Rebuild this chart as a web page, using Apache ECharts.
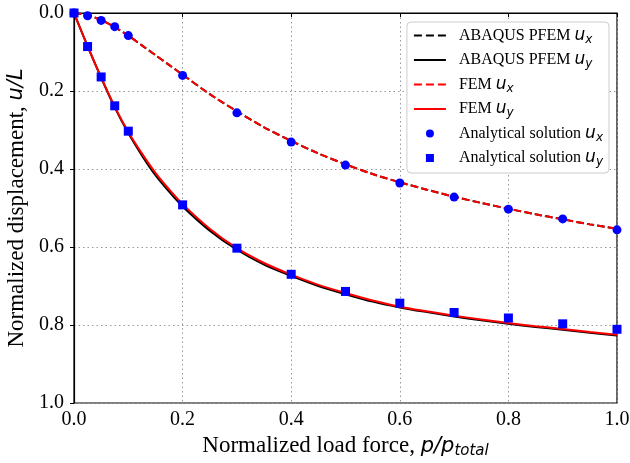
<!DOCTYPE html>
<html>
<head>
<meta charset="utf-8">
<script src="https://cdn.jsdelivr.net/npm/echarts@6/dist/echarts.min.js"></script>
<style>html,body{margin:0;padding:0;background:#fff}#c{width:630px;height:463px}</style>
</head>
<body>
<div id="c"></div>
<script>
// Load-step values for simulated curves
const xFine = [0,0.025,0.05,0.075,0.1,0.125,0.15,0.175,0.2,0.25,0.3,0.35,0.4,0.45,0.5,0.55,0.6,0.65,0.7,0.75,0.8,0.85,0.9,0.95,1.0];
const abaqusUx = [0,0.006,0.018,0.036,0.058,0.083,0.108,0.133,0.158,0.208,0.252,0.293,0.328,0.360,0.388,0.413,0.434,0.453,0.471,0.487,0.502,0.516,0.529,0.542,0.553];
const abaqusUy = [0,0.085,0.166,0.242,0.308,0.365,0.416,0.458,0.496,0.558,0.607,0.645,0.674,0.700,0.721,0.740,0.755,0.767,0.778,0.788,0.797,0.805,0.812,0.820,0.827];
const femUx = [0,0.006,0.018,0.036,0.058,0.083,0.108,0.133,0.158,0.208,0.252,0.293,0.328,0.360,0.388,0.413,0.434,0.453,0.471,0.487,0.502,0.516,0.529,0.542,0.553];
const femUy = [0,0.085,0.165,0.240,0.305,0.360,0.410,0.452,0.490,0.553,0.603,0.641,0.671,0.697,0.718,0.737,0.753,0.765,0.776,0.786,0.795,0.803,0.810,0.818,0.825];
// Analytical solution sample points
const xAna = [0,0.025,0.05,0.075,0.1,0.2,0.3,0.4,0.5,0.6,0.7,0.8,0.9,1.0];
const anaUx = [0,0.007,0.019,0.035,0.058,0.160,0.256,0.331,0.390,0.436,0.472,0.503,0.528,0.556];
const anaUy = [0,0.086,0.164,0.238,0.303,0.492,0.603,0.670,0.714,0.744,0.768,0.782,0.797,0.811];
const xTicks = [0,0.2,0.4,0.6,0.8,1.0];
const yTicks = [0,0.2,0.4,0.6,0.8,1.0];

const names = [
  'ABAQUS PFEM {i|u}{s|x}',
  'ABAQUS PFEM {i|u}{s|y}',
  'FEM {i|u}{s|x}',
  'FEM {i|u}{s|y}',
  'Analytical solution {i|u}{s|x}',
  'Analytical solution {i|u}{s|y}'
];
const dashIcon = 'path://M0,0h8v2h-8z M12,0h8v2h-8z M24,0h8v2h-8z';
const solidIcon = 'path://M0,0h32v2h-32z';
const squareIcon = 'path://M0,0h10v10h-10z';
const icons = [dashIcon, solidIcon, dashIcon, solidIcon, 'circle', squareIcon];

const pairs = (xs, ys) => xs.map((x, k) => [x, ys[k]]);
const serif = '"Liberation Serif","DejaVu Serif",serif';
const sans = '"DejaVu Sans",sans-serif';

const chart = echarts.init(document.getElementById('c'));
chart.setOption({
  animation: false,
  backgroundColor: '#fff',
  grid: {left: 74, right: 13, top: 13, bottom: 60, show: true, borderColor: '#000', borderWidth: 1.2,
         backgroundColor: 'transparent', containLabel: false, outerBoundsMode: 'none'},
  xAxis: {
    type: 'value', min: 0, max: 1, interval: 0.2,
    name: 'Normalized load force, {i|p}{i|/}{i|p}{s|total}',
    nameLocation: 'middle', nameGap: 27,
    nameTextStyle: {fontFamily: serif, fontSize: 23, color: '#000',
      rich: {i: {fontFamily: sans, fontStyle: 'italic', fontSize: 21, color: '#000'},
             s: {fontFamily: sans, fontStyle: 'italic', fontSize: 15, color: '#000', padding: [10, 0, 0, 0]}}},
    axisLine: {show: true, lineStyle: {color: '#000', width: 1.2}},
    axisTick: {show: true, length: 4, lineStyle: {color: '#000'}},
    axisLabel: {fontFamily: serif, fontSize: 20, color: '#000', margin: 7,
      formatter: v => xTicks.includes(+v.toFixed(1)) ? v.toFixed(1) : ''},
    splitLine: {show: true, lineStyle: {color: '#999', type: [1.5, 3], width: 1}}
  },
  yAxis: {
    type: 'value', min: 0, max: 1, interval: 0.2, inverse: true,
    name: 'Normalized displacement, {i|u}{i|/}{i|L}',
    nameLocation: 'middle', nameGap: 39, nameRotate: 90,
    nameTextStyle: {fontFamily: serif, fontSize: 23, color: '#000',
      rich: {i: {fontFamily: sans, fontStyle: 'italic', fontSize: 21, color: '#000'}}},
    axisLine: {show: true, lineStyle: {color: '#000', width: 1.2}},
    axisTick: {show: true, length: 4, lineStyle: {color: '#000'}},
    axisLabel: {fontFamily: serif, fontSize: 20, color: '#000', margin: 10,
      formatter: v => yTicks.includes(+v.toFixed(1)) ? v.toFixed(1) : ''},
    splitLine: {show: true, lineStyle: {color: '#999', type: [1.5, 3], width: 1}}
  },
  legend: {
    orient: 'vertical', right: 21, top: 22,
    backgroundColor: '#fff', borderColor: '#ccc', borderWidth: 1, borderRadius: 4,
    padding: [5, 6, 5, 7], itemGap: 6, itemWidth: 32, itemHeight: 8,
    symbolKeepAspect: true,
    data: names.map((n, k) => ({name: n, icon: icons[k]})),
    formatter: n => '{g|}' + n,
    textStyle: {fontFamily: serif, fontSize: 16, color: '#000',
      rich: {g: {width: 8},
             i: {fontFamily: sans, fontStyle: 'italic', fontSize: 17, color: '#000'},
             s: {fontFamily: sans, fontStyle: 'italic', fontSize: 12, color: '#000', padding: [8, 0, 0, 0]}}}
  },
  series: [
    {name: names[0], type: 'line', data: pairs(xFine, abaqusUx), smooth: 0.3, showSymbol: false, symbol: 'none',
     lineStyle: {color: '#000', width: 2, type: [7.4, 3.2]}, itemStyle: {color: '#000'}, z: 2},
    {name: names[1], type: 'line', data: pairs(xFine, abaqusUy), smooth: 0.3, showSymbol: false, symbol: 'none',
     lineStyle: {color: '#000', width: 2}, itemStyle: {color: '#000'}, z: 2},
    {name: names[2], type: 'line', data: pairs(xFine, femUx), smooth: 0.3, showSymbol: false, symbol: 'none',
     lineStyle: {color: '#ff0000', width: 2, type: [7.4, 3.2]}, itemStyle: {color: '#ff0000'}, z: 3},
    {name: names[3], type: 'line', data: pairs(xFine, femUy), smooth: 0.3, showSymbol: false, symbol: 'none',
     lineStyle: {color: '#ff0000', width: 2}, itemStyle: {color: '#ff0000'}, z: 3},
    {name: names[4], type: 'scatter', data: pairs(xAna, anaUx), symbol: 'circle', symbolSize: 9,
     itemStyle: {color: '#0000ff', opacity: 1}, z: 4},
    {name: names[5], type: 'scatter', data: pairs(xAna, anaUy), symbol: 'rect', symbolSize: 9,
     itemStyle: {color: '#0000ff', opacity: 1}, z: 4}
  ]
});
</script>
</body>
</html>
